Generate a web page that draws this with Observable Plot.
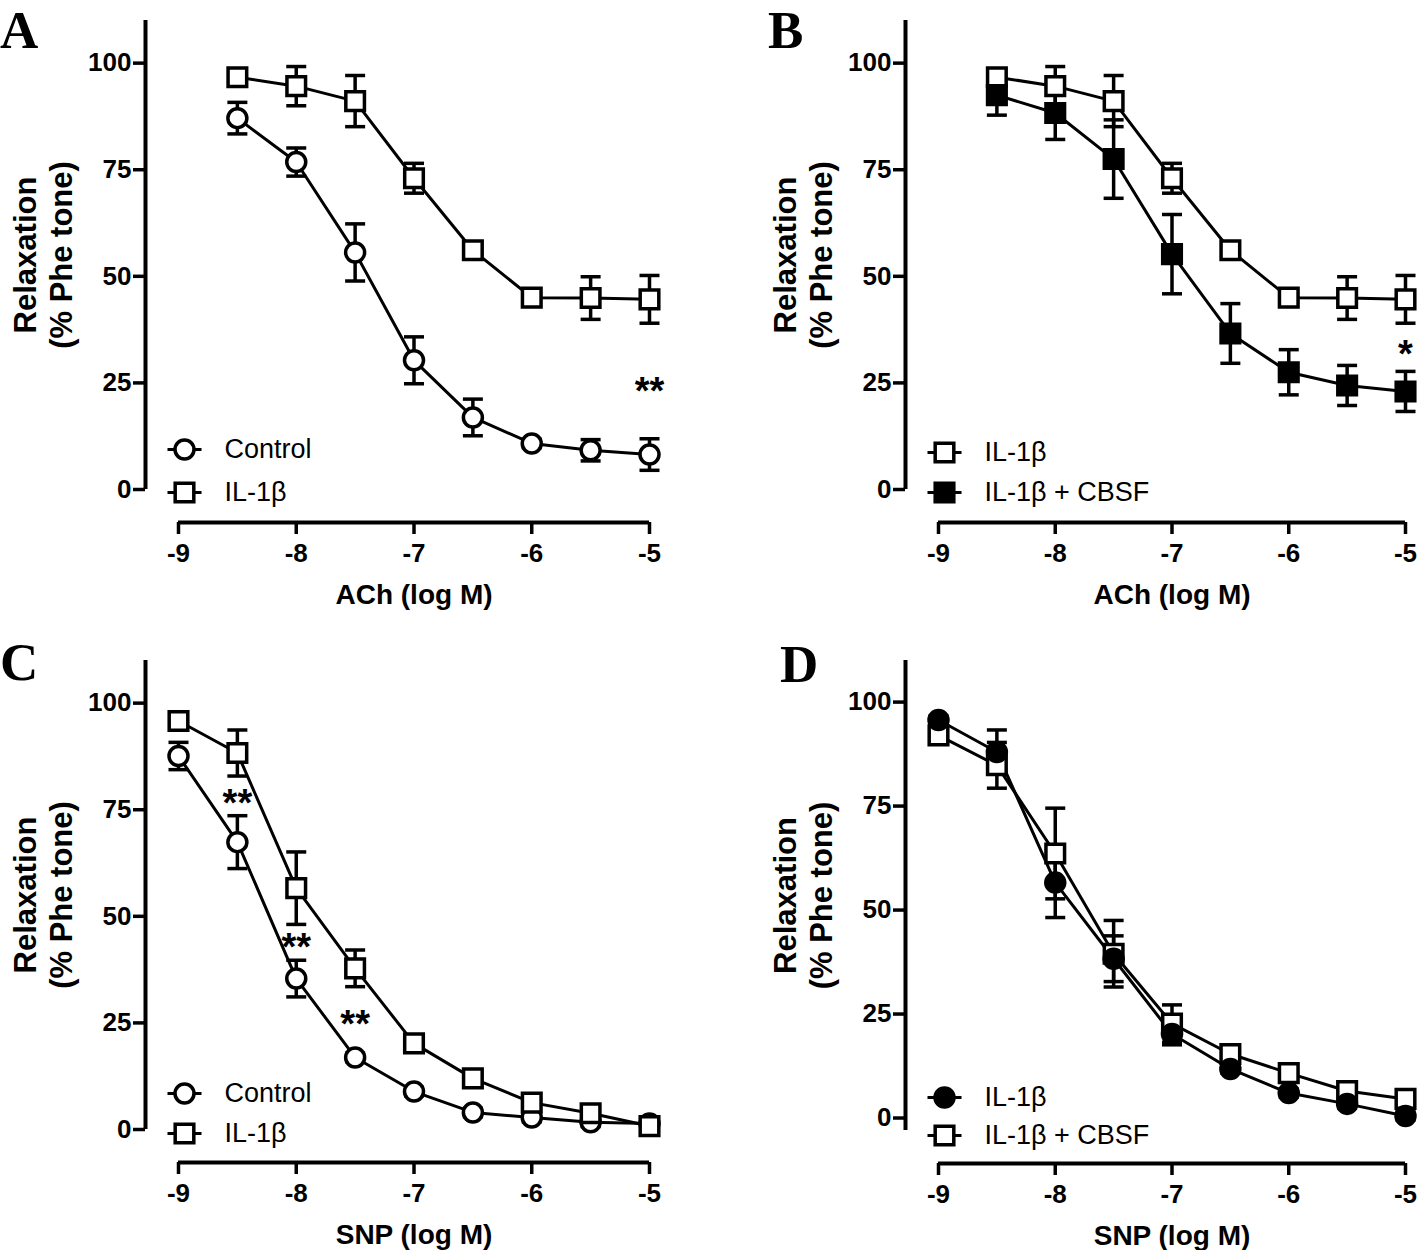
<!DOCTYPE html>
<html><head><meta charset="utf-8">
<script src="https://cdn.jsdelivr.net/npm/d3@7"></script>
<script src="https://cdn.jsdelivr.net/npm/@observablehq/plot@0.6"></script>
<style>
body{margin:0;background:#fff;}
#fig{position:relative;width:1418px;height:1250px;font-family:"Liberation Sans",Arial,sans-serif;background:#fff;}
.panel{position:absolute;}
.letter{position:absolute;font-family:"Liberation Serif","Times New Roman",serif;font-weight:bold;font-size:53px;line-height:normal;color:#000;}
</style></head><body><div id="fig"></div>
<script>
// ---- Data ----
const achDoses = [-8.5, -8, -7.5, -7, -6.5, -6, -5.5, -5];
const snpDoses = [-9, -8.5, -8, -7.5, -7, -6.5, -6, -5.5, -5];

const achControl      = [87.1, 76.8, 55.6, 30.3, 16.9, 10.8, 9.2, 8.2];
const achControlSem   = [3.7, 3.3, 6.7, 5.5, 4.3, 1.0, 2.5, 3.7];
const achIL1b         = [96.7, 94.6, 91.1, 73.0, 56.1, 45.0, 44.9, 44.6];
const achIL1bSem      = [1.0, 4.6, 6.0, 3.5, 1.5, 1.0, 5.0, 5.6];
const achIL1bCBSF     = [92.5, 88.3, 77.5, 55.2, 36.6, 27.5, 24.4, 23.0];
const achIL1bCBSFSem  = [4.7, 6.2, 9.2, 9.3, 7.0, 5.3, 4.7, 4.7];

const snpControl      = [87.6, 67.4, 35.4, 16.9, 8.9, 4.0, 2.8, 1.7, 1.4];
const snpControlSem   = [3.2, 6.2, 4.3, 1.0, 1.0, 1.0, 1.0, 1.0, 1.0];
const snpIL1b         = [95.8, 88.3, 56.6, 37.8, 20.2, 12.0, 6.3, 3.8, 0.8];
const snpIL1bSem      = [1.0, 5.4, 8.5, 4.3, 1.0, 1.0, 1.0, 1.0, 1.0];

const snpIL1bD        = [95.7, 88.0, 56.6, 38.3, 20.2, 11.8, 6.0, 3.4, 0.5];
const snpIL1bDSem     = [1.0, 5.3, 8.4, 5.5, 2.6, 1.0, 1.0, 1.0, 1.0];
const snpIL1bCBSF     = [92.0, 84.8, 63.6, 39.5, 22.7, 15.4, 10.8, 6.5, 4.6];
const snpIL1bCBSFSem  = [1.0, 5.5, 10.9, 8.0, 4.5, 1.0, 1.0, 1.0, 1.0];

const xTicks = [-9, -8, -7, -6, -5];
const yTicks = [0, 25, 50, 75, 100];
const yTitle = "Relaxation\n(% Phe tone)";

const starsA = [{x: -5, y: 23, label: "**"}];
const starsB = [{x: -5, y: 31.5, label: "*"}];
const starsC = [{x: -8.5, y: 76.5, label: "**"}, {x: -8, y: 42.5, label: "**"}, {x: -7.5, y: 24.5, label: "**"}];

// ---- Drawing helpers ----
const cap = {draw(ctx) { ctx.moveTo(-10, 0); ctx.lineTo(10, 0); }};
const legendStroke = {draw(ctx) { ctx.moveTo(-17, 0); ctx.lineTo(17, 0); }};
const R = {circle: 9.5, square: 10.5};

function panel({left, top, width, height, yDomain, xTitle, series, legend, stars}) {
  const marginLeft = 178, marginTop = 20;
  const plotRight = width - (left === 0 ? 60 : 13);
  const marks = [];
  // axis lines (offset GraphPad style)
  marks.push(Plot.ruleX([-9], {y1: yDomain[0], y2: yDomain[1], dx: -33, strokeWidth: 4}));
  marks.push(Plot.ruleY([yDomain[0]], {x1: -9, x2: -5, dy: 33, strokeWidth: 4}));
  marks.push(Plot.axisY({ticks: yTicks, tickFormat: d => String(d), tickSize: 12, tickPadding: 2, dx: -33,
    fontSize: 26, fontWeight: "bold", strokeWidth: 3.5, label: null}));
  marks.push(Plot.axisX({ticks: xTicks, tickFormat: d => String(d), tickSize: 12, tickPadding: 9, dy: 33,
    fontSize: 26, fontWeight: "bold", strokeWidth: 3.5, label: null}));
  marks.push(Plot.text([yTitle], {frameAnchor: "left", rotate: -90, dx: -136, fontSize: 31, fontWeight: "bold",
    lineHeight: 1.15, textAnchor: "middle", lineAnchor: "middle"}));
  marks.push(Plot.text([xTitle], {frameAnchor: "bottom", dy: 106, fontSize: 28, fontWeight: "bold", lineAnchor: "middle"}));
  for (const s of series) {
    const rows = s.xs.map((x, i) => ({x, y: s.ys[i], e: s.es[i]}));
    marks.push(Plot.line(rows, {x: "x", y: "y", stroke: "black", strokeWidth: 3}));
    marks.push(Plot.ruleX(rows, {x: "x", y1: d => d.y - d.e, y2: d => d.y + d.e, strokeWidth: 3.5}));
    marks.push(Plot.dot(rows, {x: "x", y: d => d.y + d.e, symbol: cap, stroke: "black", strokeWidth: 3.5}));
    marks.push(Plot.dot(rows, {x: "x", y: d => d.y - d.e, symbol: cap, stroke: "black", strokeWidth: 3.5}));
  }
  for (const s of series) {
    const rows = s.xs.map((x, i) => ({x, y: s.ys[i]}));
    marks.push(Plot.dot(rows, {x: "x", y: "y", symbol: s.shape, r: R[s.shape],
      fill: s.filled ? "black" : "white", stroke: "black", strokeWidth: 3.5}));
  }
  legend.forEach((s) => {
    marks.push(Plot.dot([s.name], {frameAnchor: "bottom-left", dx: 6, dy: s.dy, symbol: legendStroke, stroke: "black", strokeWidth: 3}));
    marks.push(Plot.dot([s.name], {frameAnchor: "bottom-left", dx: 6, dy: s.dy, symbol: s.shape, r: R[s.shape],
      fill: s.filled ? "black" : "white", stroke: "black", strokeWidth: 3.5}));
    marks.push(Plot.text([s.name], {frameAnchor: "bottom-left", dx: 46, dy: s.dy, textAnchor: "start", lineAnchor: "middle", fontSize: 27}));
  });
  if (stars) marks.push(Plot.text(stars, {x: "x", y: "y", text: "label", fontSize: 38, fontWeight: "bold", lineAnchor: "middle"}));

  const chart = Plot.plot({
    width, height, marginLeft, marginTop,
    marginRight: width - plotRight, marginBottom: height - (marginTop + (yDomain[0] < 0 ? 470 : 469)),
    x: {domain: [-9, -5], axis: null},
    y: {domain: yDomain, axis: null},
    style: {fontFamily: '"Liberation Sans", Arial, sans-serif', color: "black", background: "white", overflow: "visible"},
    marks
  });
  const div = document.createElement("div");
  div.className = "panel";
  div.style.left = left + "px";
  div.style.top = top + "px";
  div.appendChild(chart);
  document.getElementById("fig").appendChild(div);
}

function letter(t, x, y) {
  const d = document.createElement("div");
  d.className = "letter"; d.textContent = t;
  d.style.left = x + "px"; d.style.top = y + "px";
  document.getElementById("fig").appendChild(d);
}

panel({left: 0, top: 0, width: 709, height: 610, yDomain: [0, 110], xTitle: "ACh (log M)",
  series: [
    {xs: achDoses, ys: achControl, es: achControlSem, shape: "circle", filled: false},
    {xs: achDoses, ys: achIL1b, es: achIL1bSem, shape: "square", filled: false}
  ],
  legend: [
    {name: "Control", shape: "circle", filled: false, dy: -40},
    {name: "IL-1β", shape: "square", filled: false, dy: 3}
  ], stars: starsA});

panel({left: 760, top: 0, width: 658, height: 610, yDomain: [0, 110], xTitle: "ACh (log M)",
  series: [
    {xs: achDoses, ys: achIL1b, es: achIL1bSem, shape: "square", filled: false},
    {xs: achDoses, ys: achIL1bCBSF, es: achIL1bCBSFSem, shape: "square", filled: true}
  ],
  legend: [
    {name: "IL-1β", shape: "square", filled: false, dy: -37},
    {name: "IL-1β + CBSF", shape: "square", filled: true, dy: 3}
  ], stars: starsB});

panel({left: 0, top: 640, width: 709, height: 610, yDomain: [0, 110], xTitle: "SNP (log M)",
  series: [
    {xs: snpDoses, ys: snpControl, es: snpControlSem, shape: "circle", filled: false},
    {xs: snpDoses, ys: snpIL1b, es: snpIL1bSem, shape: "square", filled: false}
  ],
  legend: [
    {name: "Control", shape: "circle", filled: false, dy: -36},
    {name: "IL-1β", shape: "square", filled: false, dy: 4}
  ], stars: starsC});

panel({left: 760, top: 640, width: 658, height: 610, yDomain: [-3, 110], xTitle: "SNP (log M)",
  series: [
    {xs: snpDoses, ys: snpIL1bCBSF, es: snpIL1bCBSFSem, shape: "square", filled: false},
    {xs: snpDoses, ys: snpIL1bD, es: snpIL1bDSem, shape: "circle", filled: true}
  ],
  legend: [
    {name: "IL-1β", shape: "circle", filled: true, dy: -33},
    {name: "IL-1β + CBSF", shape: "square", filled: false, dy: 5}
  ]});

letter("A", 0, 0);
letter("B", 768, 0);
letter("C", 0, 632);
letter("D", 780, 634);
</script></body></html>
